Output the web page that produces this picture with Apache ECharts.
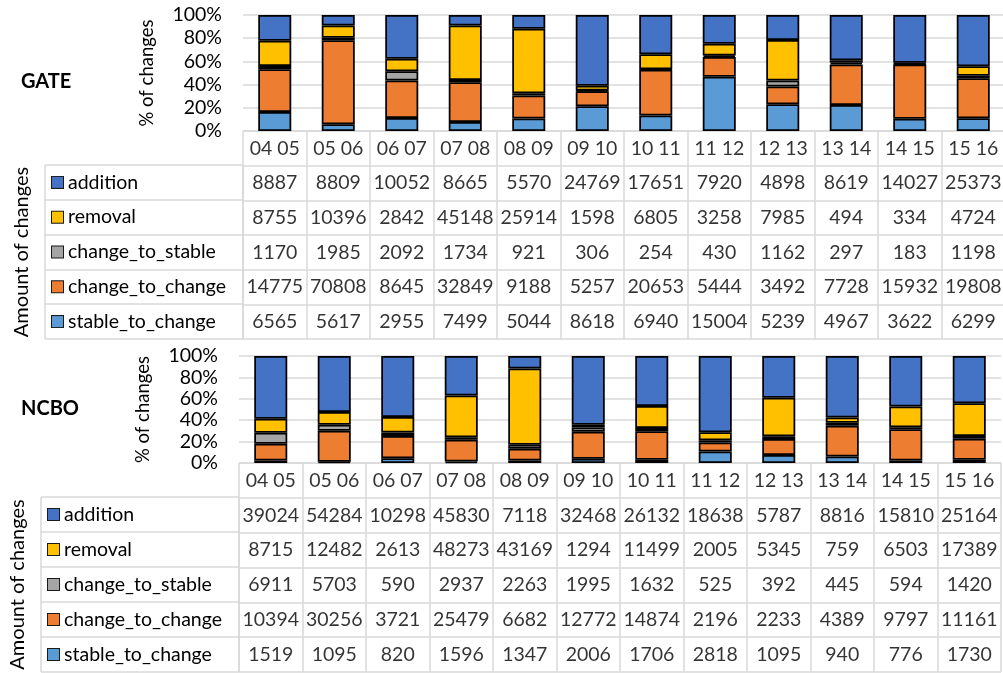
<!DOCTYPE html>
<html><head><meta charset="utf-8">
<script src="https://cdn.jsdelivr.net/npm/echarts@6/dist/echarts.min.js"></script>
<style>html,body{margin:0;padding:0;background:#fff}#c{width:1003px;height:673px}</style>
</head><body><div id="c"></div>
<script>
// ---------- data ----------
const categories = ['04 05','05 06','06 07','07 08','08 09','09 10','10 11','11 12','12 13','13 14','14 15','15 16'];
const stackOrder = ['stable_to_change','change_to_change','change_to_stable','removal','addition']; // bottom -> top
const tableRows = ['addition','removal','change_to_stable','change_to_change','stable_to_change'];
const yTicks = [0, 20, 40, 60, 80, 100];
const panelNames = ['GATE', 'NCBO'];

const gateAddition       = [8887, 8809, 10052, 8665, 5570, 24769, 17651, 7920, 4898, 8619, 14027, 25373];
const gateRemoval        = [8755, 10396, 2842, 45148, 25914, 1598, 6805, 3258, 7985, 494, 334, 4724];
const gateChangeToStable = [1170, 1985, 2092, 1734, 921, 306, 254, 430, 1162, 297, 183, 1198];
const gateChangeToChange = [14775, 70808, 8645, 32849, 9188, 5257, 20653, 5444, 3492, 7728, 15932, 19808];
const gateStableToChange = [6565, 5617, 2955, 7499, 5044, 8618, 6940, 15004, 5239, 4967, 3622, 6299];

const ncboAddition       = [39024, 54284, 10298, 45830, 7118, 32468, 26132, 18638, 5787, 8816, 15810, 25164];
const ncboRemoval        = [8715, 12482, 2613, 48273, 43169, 1294, 11499, 2005, 5345, 759, 6503, 17389];
const ncboChangeToStable = [6911, 5703, 590, 2937, 2263, 1995, 1632, 525, 392, 445, 594, 1420];
const ncboChangeToChange = [10394, 30256, 3721, 25479, 6682, 12772, 14874, 2196, 2233, 4389, 9797, 11161];
const ncboStableToChange = [1519, 1095, 820, 1596, 1347, 2006, 1706, 2818, 1095, 940, 776, 1730];

// ---------- styling / layout ----------
const colors = {addition:'#4472C4', removal:'#FFC000', change_to_stable:'#A5A5A5', change_to_change:'#ED7D31', stable_to_change:'#5B9BD5'};
const FONT = 'Lato';
const FS = 18.5;
const FS_TAB = 19.5;
const GRIDC = '#d9d9d9';

const panelData = [
  {addition:gateAddition, removal:gateRemoval, change_to_stable:gateChangeToStable, change_to_change:gateChangeToChange, stable_to_change:gateStableToChange},
  {addition:ncboAddition, removal:ncboRemoval, change_to_stable:ncboChangeToStable, change_to_change:ncboChangeToChange, stable_to_change:ncboStableToChange}
];
const layouts = [
  {legendLeft:45, dataLeft:243, barTop:15, barBottom:131, hdrBottom:165, tableBottom:339, titleY:83},
  {legendLeft:41, dataLeft:239, barTop:356, barBottom:463, hdrBottom:497, tableBottom:672, titleY:410}
];
const DATA_W = 762;

const grid = [], xAxis = [], yAxis = [], series = [], title = [];

panelNames.forEach((pname, p) => {
  const L = layouts[p], D = panelData[p];
  const gBar = grid.length, gTab = gBar + 1, gLeg = gBar + 2;
  grid.push({left:L.dataLeft, top:L.barTop, width:DATA_W, height:L.barBottom - L.barTop, containLabel:false, outerBoundsMode:'none'});
  grid.push({left:L.dataLeft, top:L.barBottom, width:DATA_W, height:L.tableBottom - L.barBottom, containLabel:false, outerBoundsMode:'none'});
  grid.push({left:L.legendLeft, top:L.hdrBottom, width:L.dataLeft - L.legendLeft, height:L.tableBottom - L.hdrBottom, containLabel:false, outerBoundsMode:'none'});

  title.push({text:pname, left:21, top:L.titleY - 11, textStyle:{fontFamily:FONT, fontWeight:'bold', fontSize:20, color:'#000'}, padding:0});

  // bar chart axes
  const barX = xAxis.length;
  xAxis.push({type:'category', gridIndex:gBar, data:categories, boundaryGap:true,
    axisLine:{show:false}, axisTick:{show:false}, axisLabel:{show:false}, splitLine:{show:false}});
  const barY = yAxis.length;
  yAxis.push({type:'value', gridIndex:gBar, min:yTicks[0], max:yTicks[yTicks.length-1], interval:yTicks[1]-yTicks[0],
    axisLine:{show:false}, axisTick:{show:false},
    axisLabel:{formatter:'{value}%', fontFamily:FONT, fontSize:FS_TAB, color:'#000', margin:21},
    splitLine:{show:true, lineStyle:{color:GRIDC, width:1.5}},
    name:'% of changes', nameLocation:'middle', nameGap:86,
    nameTextStyle:{fontFamily:FONT, fontSize:FS, color:'#000'}});

  // data table axes
  const tabX = xAxis.length;
  xAxis.push({type:'category', gridIndex:gTab, data:categories, boundaryGap:true,
    axisLine:{show:false}, axisTick:{show:false}, axisLabel:{show:false},
    splitLine:{show:true, lineStyle:{color:GRIDC, width:1.5}}});
  const tabY = yAxis.length;
  yAxis.push({type:'category', gridIndex:gTab, data:['header'].concat(tableRows), inverse:true, boundaryGap:true,
    axisLine:{show:false}, axisTick:{show:false}, axisLabel:{show:false},
    splitLine:{show:true, lineStyle:{color:GRIDC, width:1.5}}});

  // legend column axes
  xAxis.push({type:'category', gridIndex:gLeg, data:['series'], boundaryGap:true,
    axisLine:{show:false}, axisTick:{show:false}, axisLabel:{show:false},
    splitLine:{show:true, lineStyle:{color:GRIDC, width:1.5}}});
  const rich = {t:{fontFamily:FONT, fontSize:FS_TAB, color:'#000'}, g:{width:5}};
  tableRows.forEach((n, i) => { rich['s' + i] = {width:11, height:11, backgroundColor:colors[n], borderColor:'#1a1a1a', borderWidth:1}; });
  yAxis.push({type:'category', gridIndex:gLeg, data:tableRows, inverse:true, boundaryGap:true,
    axisLine:{show:false}, axisTick:{show:false},
    axisLabel:{inside:true, margin:7, align:'left',
      formatter:(v, i) => '{s' + i + '|}{g|}{t|' + v + '}', rich:rich},
    splitLine:{show:true, lineStyle:{color:GRIDC, width:1.5}},
    name:'Amount of changes', nameLocation:'middle', nameGap:13,
    nameTextStyle:{fontFamily:FONT, fontSize:20, color:'#000'}});

  // stacked 100% bars
  const totals = categories.map((c, i) => stackOrder.reduce((s, n) => s + D[n][i], 0));
  stackOrder.forEach(n => {
    series.push({type:'bar', name:n, xAxisIndex:barX, yAxisIndex:barY,
      stack:'total' + p, barWidth:'52%',
      data:D[n].map((v, i) => v / totals[i] * 100),
      itemStyle:{color:colors[n], borderColor:'#000', borderWidth:1.75},
      emphasis:{disabled:true}, silent:true});
  });

  // table cells: header + values
  const cells = [];
  categories.forEach((c, i) => cells.push([i, 0, c]));
  tableRows.forEach((n, r) => D[n].forEach((v, i) => cells.push([i, r + 1, v])));
  series.push({type:'scatter', xAxisIndex:tabX, yAxisIndex:tabY, data:cells, symbol:'rect', symbolSize:1,
    itemStyle:{color:'rgba(0,0,0,0)'}, silent:true,
    label:{show:true, position:'inside', formatter:pr => String(pr.value[2]), fontFamily:FONT, fontSize:FS_TAB, color:'#000'}});
});

const chart = echarts.init(document.getElementById('c'), null, {renderer:'canvas'});
chart.setOption({
  animation:false,
  backgroundColor:'#fff',
  textStyle:{fontFamily:FONT},
  title, grid, xAxis, yAxis, series,
  tooltip:{show:false}
});
</script>
</body></html>
